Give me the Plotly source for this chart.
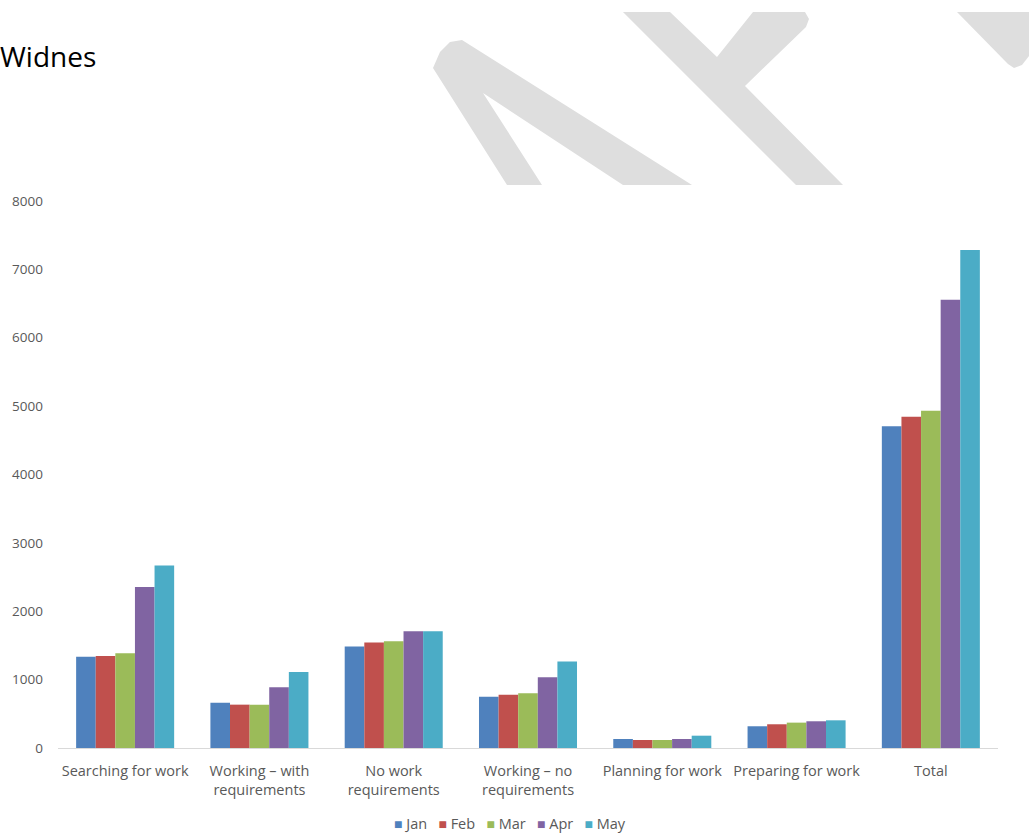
import plotly.graph_objects as go

categories = ["Searching for work", "Working – with<br>requirements", "No work<br>requirements",
              "Working – no<br>requirements", "Planning for work", "Preparing for work", "Total"]
months = ["Jan", "Feb", "Mar", "Apr", "May"]
jan = [1336, 663, 1483, 751, 132, 318, 4706]
feb = [1345, 634, 1542, 780, 117, 347, 4843]
mar = [1386, 634, 1562, 801, 117, 371, 4931]
apr = [2353, 889, 1709, 1035, 132, 391, 6556]
may = [2669, 1113, 1709, 1264, 180, 405, 7283]
series = [jan, feb, mar, apr, may]
colors = ["#4F81BD", "#C0504D", "#9BBB59", "#8064A2", "#4BACC6"]
y_ticks = [0, 1000, 2000, 3000, 4000, 5000, 6000, 7000, 8000]

W, H = 1029, 834
L, R, T, B = 58, 31, 201, 86

fig = go.Figure()
for name, vals, col in zip(months, series, colors):
    fig.add_trace(go.Bar(x=categories, y=vals, name=name,
                         marker=dict(color=col, line=dict(width=0))))

# decorative watermark strokes (pixel coordinates of the page)
watermark = [
    [(433, 68), (440, 52), (450, 42), (462, 40), (692, 185), (623, 185), (483, 93), (542, 185), (507, 185)],
    [(623, 12), (670, 12), (717, 57), (753, 12), (805, 12), (809, 19), (806, 27), (745, 86), (843, 185), (796, 185)],
    [(957, 12), (1029, 12), (1029, 56), (1022, 65), (1014, 68), (1008, 64)],
]
pw, ph = W - L - R, H - T - B
def px(p):
    return ((p[0] - L) / pw, (H - B - p[1]) / ph)
shapes = []
for poly in watermark:
    pts = [px(p) for p in poly]
    path = "M " + " L ".join(f"{a:.5f},{b:.5f}" for a, b in pts) + " Z"
    shapes.append(dict(type="path", path=path, xref="paper", yref="paper",
                       fillcolor="#DEDEDE", line=dict(width=0), layer="below"))

# compact legend (Excel style): small squares followed by month names
legend_text = "&nbsp;&nbsp;&nbsp;".join(
    f'<span style="color:{c};font-size:14px">■</span>&nbsp;{m}' for m, c in zip(months, colors))

font_family = "Open Sans, Noto Sans, sans-serif"
fig.update_layout(
    width=W, height=H,
    margin=dict(l=L, r=R, t=T, b=B, autoexpand=False),
    paper_bgcolor="white", plot_bgcolor="white",
    barmode="group", bargap=0.27, bargroupgap=0,
    font=dict(family=font_family, size=14, color="#595959"),
    title=dict(text="Widnes", x=0, xref="container", xanchor="left",
               y=1 - 57 / H, yref="container", yanchor="middle",
               font=dict(family=font_family, size=28, color="#000000")),
    xaxis=dict(showline=True, linecolor="#D9D9D9", linewidth=1, ticks="",
               showgrid=False, ticklabelstandoff=10,
               tickfont=dict(size=14.5, color="#595959")),
    yaxis=dict(range=[0, 8000], tickvals=y_ticks, showgrid=False, zeroline=False,
               showline=False, ticks="", ticklabelstandoff=14,
               tickfont=dict(size=13.5, color="#595959")),
    showlegend=False,
    annotations=[dict(text=legend_text, xref="paper", yref="paper",
                      x=(510 - L) / pw, xanchor="center",
                      y=(H - B - 823) / ph, yanchor="middle", showarrow=False,
                      font=dict(size=14.5, color="#595959"))],
    shapes=shapes,
)
fig.write_html("out.html")
